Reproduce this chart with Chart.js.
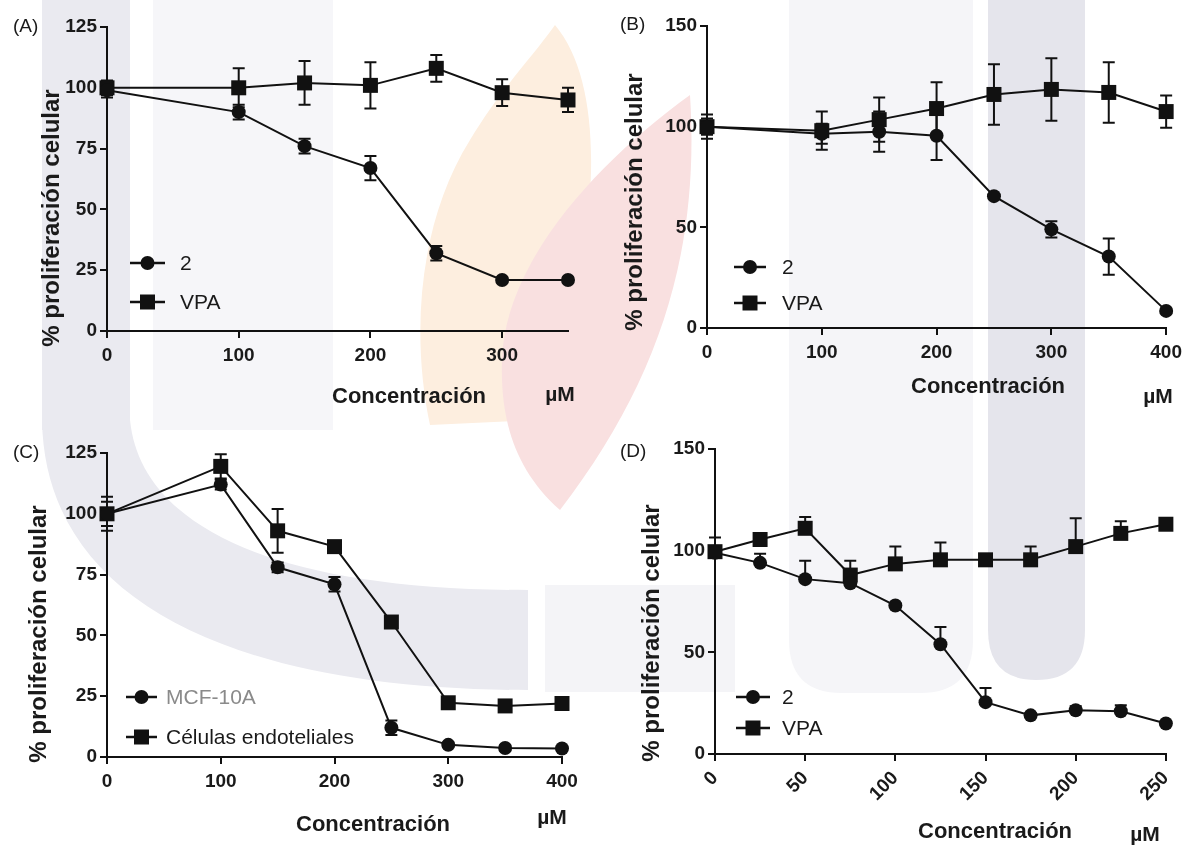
<!DOCTYPE html>
<html lang="es">
<head>
<meta charset="utf-8">
<title>Proliferación celular</title>
<script src="https://cdn.jsdelivr.net/npm/chart.js@4.4.1/dist/chart.umd.min.js"></script>
<style>
    body { margin: 0; background: #fff; }
    #lienzo { position: relative; width: 1188px; height: 846px; overflow: hidden; background: #fff; }
    #marca { position: absolute; left: 0; top: 0; }
    canvas { position: absolute; }
</style>
</head>
<body>
<div id="lienzo">
    <!-- marca de agua de fondo (decorativa) -->
    <svg id="marca" width="1188" height="846">
        <rect x="42" y="0" width="88" height="430" fill="#eaeaf0"/>
        <rect x="153" y="0" width="180" height="430" fill="#f6f6f9"/>
        <path d="M 42 420 L 130 420 C 140 520 260 590 528 590 L 528 690 C 250 690 45 610 42 420 Z" fill="#eaeaf0"/>
        <rect x="545" y="585" width="190" height="107" fill="#f4f4f7"/>
        <path d="M 789 0 L 973 0 L 973 640 Q 973 693 920 693 L 842 693 Q 789 693 789 640 Z" fill="#f5f5f8"/>
        <path d="M 988 0 L 1085 0 L 1085 630 Q 1085 680 1036 680 Q 988 680 988 630 Z" fill="#e5e5ec"/>
        <path d="M 555 25 C 610 90 600 250 540 420 L 430 425 C 410 330 420 220 470 140 C 500 90 530 60 555 25 Z" fill="#fdeedf"/>
        <path d="M 690 95 C 700 250 660 380 560 510 C 515 470 500 420 502 360 C 505 260 600 160 690 95 Z" fill="#f9e0e0"/>
    </svg>
    <canvas id="grafico-a" width="594" height="423" style="left:0px;top:0px"></canvas>
    <canvas id="grafico-b" width="594" height="423" style="left:594px;top:0px"></canvas>
    <canvas id="grafico-c" width="594" height="423" style="left:0px;top:423px"></canvas>
    <canvas id="grafico-d" width="594" height="423" style="left:594px;top:423px"></canvas>
</div>
<script>
// ---- Datos panel (A) ----
const dosisA = [0, 100, 150, 200, 250, 300, 350];
const comp2A = [99, 90, 76, 67, 32, 21, 21];
const errComp2A = [3, 3, 3, 5, 3, 1, 1];
const vpaA = [100, 100, 102, 101, 108, 98, 95];
const errVpaA = [3, 8, 9, 9.5, 5.5, 5.5, 5];
const ticksXA = [0, 100, 200, 300];
const ticksYA = [0, 25, 50, 75, 100, 125];

// ---- Datos panel (B) ----
const dosisB = [0, 100, 150, 200, 250, 300, 350, 400];
const comp2B = [100, 96.5, 97.5, 95.5, 65.5, 49, 35.5, 8.5];
const errComp2B = [6, 5, 10, 12, 1, 4, 9, 1];
const vpaB = [100, 98, 103.5, 109, 116, 118.5, 117, 107.5];
const errVpaB = [4, 9.5, 11, 13, 15, 15.5, 15, 8];
const ticksXB = [0, 100, 200, 300, 400];
const ticksYB = [0, 50, 100, 150];

// ---- Datos panel (C) ----
const dosisC = [0, 100, 150, 200, 250, 300, 350, 400];
const mcfC = [100, 112, 78, 71, 12, 5, 3.7, 3.5];
const errMcfC = [7, 2, 2, 3, 3, 1, 1, 1];
const endoC = [100, 119.5, 93, 86.5, 55.5, 22.3, 21, 22];
const errEndoC = [5, 5, 9, 2, 1.5, 1, 1, 1];
const ticksXC = [0, 100, 200, 300, 400];
const ticksYC = [0, 25, 50, 75, 100, 125];

// ---- Datos panel (D) ----
const dosisD = [0, 25, 50, 75, 100, 125, 150, 175, 200, 225, 250];
const comp2D = [99, 94, 86, 84, 73, 54, 25.5, 19, 21.5, 21, 15];
const errComp2D = [3, 4.5, 9, 3, 1, 8.5, 7, 1, 2, 3, 1];
const vpaD = [99.5, 105.5, 111, 88, 93.5, 95.5, 95.5, 95.5, 102, 108.5, 113];
const errVpaD = [7, 1, 5.5, 7, 8.5, 8.5, 1, 6.5, 14, 6, 2];
const ticksXD = [0, 50, 100, 150, 200, 250];
const ticksYD = [0, 50, 100, 150];

const fonte = '"Liberation Sans", Arial, sans-serif';
const preto = '#111';

window.addEventListener("load", () => {
    gerarPainel({
        id: 'grafico-a', letra: '(A)', xMax: 350, yMax: 125,
        ticksX: ticksXA, ticksY: ticksYA, rotacao: 0, soAcima: false,
        area: { left: 107, top: 27, right: 568, bottom: 331 },
        posLetra: [13, 27], posTituloY: [52, 218], posTituloX: [409, 397], posUnidade: [560, 395],
        legenda: { linhas: [263, 302], x1: 130, x2: 165, xt: 180 },
        series: [
            { rotulo: '2', x: dosisA, y: comp2A, erro: errComp2A, forma: 'circle' },
            { rotulo: 'VPA', x: dosisA, y: vpaA, erro: errVpaA, forma: 'rect' }
        ]
    });
    gerarPainel({
        id: 'grafico-b', letra: '(B)', xMax: 400, yMax: 150,
        ticksX: ticksXB, ticksY: ticksYB, rotacao: 0, soAcima: false,
        area: { left: 113, top: 26, right: 573, bottom: 328 },
        posLetra: [26, 25], posTituloY: [41, 202], posTituloX: [394, 387], posUnidade: [564, 397],
        legenda: { linhas: [267, 303], x1: 140, x2: 172, xt: 188 },
        series: [
            { rotulo: '2', x: dosisB, y: comp2B, erro: errComp2B, forma: 'circle' },
            { rotulo: 'VPA', x: dosisB, y: vpaB, erro: errVpaB, forma: 'rect' }
        ]
    });
    gerarPainel({
        id: 'grafico-c', letra: '(C)', xMax: 400, yMax: 125,
        ticksX: ticksXC, ticksY: ticksYC, rotacao: 0, soAcima: false,
        area: { left: 107, top: 30, right: 562, bottom: 334 },
        posLetra: [13, 30], posTituloY: [39, 211], posTituloX: [373, 402], posUnidade: [552, 395],
        legenda: { linhas: [274, 314], x1: 126, x2: 157, xt: 166 },
        series: [
            { rotulo: 'MCF-10A', x: dosisC, y: mcfC, erro: errMcfC, forma: 'circle', corTexto: '#8a8a8a' },
            { rotulo: 'Células endoteliales', x: dosisC, y: endoC, erro: errEndoC, forma: 'rect' }
        ]
    });
    gerarPainel({
        id: 'grafico-d', letra: '(D)', xMax: 250, yMax: 150,
        ticksX: ticksXD, ticksY: ticksYD, rotacao: 45, soAcima: true,
        area: { left: 121, top: 26, right: 579, bottom: 331 },
        posLetra: [26, 29], posTituloY: [58, 210], posTituloX: [401, 409], posUnidade: [551, 412],
        legenda: { linhas: [274, 305], x1: 142, x2: 176, xt: 188 },
        series: [
            { rotulo: '2', x: dosisD, y: comp2D, erro: errComp2D, forma: 'circle' },
            { rotulo: 'VPA', x: dosisD, y: vpaD, erro: errVpaD, forma: 'rect' }
        ]
    });
});

function desenharMarcador(ctx, forma, x, y) {
    ctx.fillStyle = preto;
    ctx.beginPath();
    if (forma == 'circle') {
        ctx.arc(x, y, 7, 0, Math.PI * 2);
    } else {
        ctx.rect(x - 7.5, y - 7.5, 15, 15);
    }
    ctx.fill();
}

function decorarPainel(p) {
    return {
        id: 'decorar-' + p.id,
        // barras de erro, antes dos pontos
        beforeDatasetsDraw(chart) {
            const ctx = chart.ctx;
            const escalaY = chart.scales.y;
            ctx.save();
            ctx.strokeStyle = preto;
            ctx.lineWidth = 2;
            p.series.forEach((s, i) => {
                const meta = chart.getDatasetMeta(i);
                meta.data.forEach((pt, j) => {
                    const topo = escalaY.getPixelForValue(s.y[j] + s.erro[j]);
                    const base = p.soAcima ? pt.y : escalaY.getPixelForValue(s.y[j] - s.erro[j]);
                    ctx.beginPath();
                    ctx.moveTo(pt.x, topo);
                    ctx.lineTo(pt.x, base);
                    ctx.moveTo(pt.x - 6, topo);
                    ctx.lineTo(pt.x + 6, topo);
                    if (!p.soAcima) {
                        ctx.moveTo(pt.x - 6, base);
                        ctx.lineTo(pt.x + 6, base);
                    }
                    ctx.stroke();
                });
            });
            ctx.restore();
        },
        afterDraw(chart) {
            const ctx = chart.ctx;
            ctx.save();
            ctx.fillStyle = '#1a1a1a';
            ctx.textBaseline = 'middle';

            ctx.font = '19px ' + fonte;
            ctx.textAlign = 'left';
            ctx.fillText(p.letra, p.posLetra[0], p.posLetra[1]);

            ctx.font = 'bold 22px ' + fonte;
            ctx.textAlign = 'center';
            ctx.fillText('Concentración', p.posTituloX[0], p.posTituloX[1]);
            ctx.font = 'bold 21px ' + fonte;
            ctx.fillText('µM', p.posUnidade[0], p.posUnidade[1]);

            ctx.save();
            ctx.translate(p.posTituloY[0], p.posTituloY[1]);
            ctx.rotate(-Math.PI / 2);
            ctx.font = 'bold 24px ' + fonte;
            ctx.fillText('% proliferación celular', 0, 0);
            ctx.restore();

            // legenda
            const leg = p.legenda;
            p.series.forEach((s, i) => {
                const y = leg.linhas[i];
                ctx.strokeStyle = preto;
                ctx.lineWidth = 2.5;
                ctx.beginPath();
                ctx.moveTo(leg.x1, y);
                ctx.lineTo(leg.x2, y);
                ctx.stroke();
                desenharMarcador(ctx, s.forma, (leg.x1 + leg.x2) / 2, y);
                ctx.fillStyle = s.corTexto || '#1a1a1a';
                ctx.font = '21px ' + fonte;
                ctx.textAlign = 'left';
                ctx.fillText(s.rotulo, leg.xt, y + 1);
            });
            ctx.restore();
        }
    };
}

function gerarPainel(p) {
    const canvas = document.getElementById(p.id);
    const largura = canvas.width;
    const altura = canvas.height;
    const fonteTicks = { family: fonte, size: 19, weight: 'bold' };

    new Chart(canvas, {
        type: 'line',
        data: {
            datasets: p.series.map(s => ({
                label: s.rotulo,
                data: s.x.map((x, i) => ({ x: x, y: s.y[i] })),
                borderColor: preto,
                backgroundColor: preto,
                borderWidth: 2,
                tension: 0,
                clip: false,
                pointStyle: s.forma,
                pointRadius: s.forma == 'rect' ? 10.6 : 7,
                pointBorderWidth: 0,
                fill: false
            }))
        },
        options: {
            responsive: false,
            animation: false,
            layout: {
                padding: { left: 0, top: p.area.top, right: largura - p.area.right, bottom: 0 }
            },
            plugins: {
                legend: { display: false },
                tooltip: { enabled: false }
            },
            scales: {
                x: {
                    type: 'linear',
                    min: 0,
                    max: p.xMax,
                    afterBuildTicks: s => { s.ticks = p.ticksX.map(v => ({ value: v })); },
                    afterFit: s => { s.height = altura - p.area.bottom; },
                    grid: { display: true, drawOnChartArea: false, drawTicks: true, tickLength: 7, color: preto, lineWidth: 2 },
                    border: { display: true, color: preto, width: 2 },
                    ticks: {
                        color: '#1a1a1a', font: fonteTicks, padding: 6, autoSkip: false,
                        minRotation: p.rotacao, maxRotation: p.rotacao
                    }
                },
                y: {
                    min: 0,
                    max: p.yMax,
                    afterBuildTicks: s => { s.ticks = p.ticksY.map(v => ({ value: v })); },
                    afterFit: s => { s.width = p.area.left; },
                    grid: { display: true, drawOnChartArea: false, drawTicks: true, tickLength: 7, color: preto, lineWidth: 2 },
                    border: { display: true, color: preto, width: 2 },
                    ticks: { color: '#1a1a1a', font: fonteTicks, padding: 3 }
                }
            }
        },
        plugins: [decorarPainel(p)]
    });
}
</script>
</body>
</html>
